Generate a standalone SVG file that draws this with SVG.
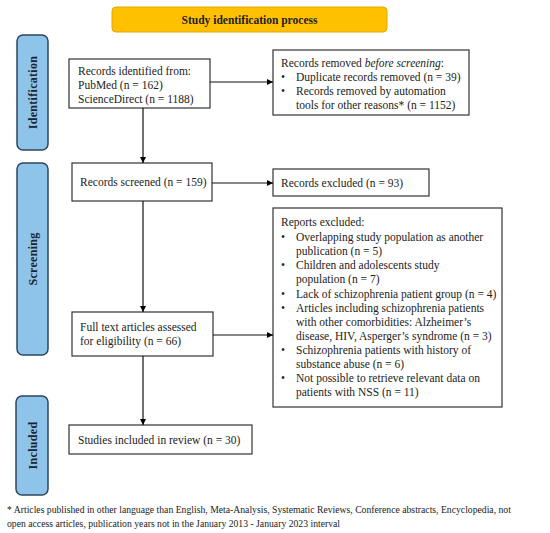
<svg xmlns="http://www.w3.org/2000/svg" width="550" height="533" viewBox="0 0 550 533">
<defs>
<marker id="ah" viewBox="0 0 10 10" refX="10" refY="5" markerWidth="6" markerHeight="6" orient="auto" markerUnits="userSpaceOnUse"><path d="M0,0 L10,5 L0,10 z" fill="#000"/></marker>
</defs>
<style>
text{font-family:"Liberation Serif","DejaVu Serif",serif;font-size:11.5px;fill:#222}
.box{fill:#fff;stroke:#333;stroke-width:1.2}
.side{fill:#8EC4EA;stroke:#2C4660;stroke-width:1.5}
.sl{font-weight:bold;font-size:12px;letter-spacing:0.3px;text-anchor:middle;fill:#1a2533}
.tt{font-weight:bold;font-size:11.5px}
.ln{fill:none;stroke:#111;stroke-width:1.2}
.fn{font-size:9.7px}
</style>
<rect width="550" height="533" fill="#fff"/>
<g id="title"><rect x="112" y="7" width="275" height="25" rx="4" fill="#FFC000" stroke="#E6A800" stroke-width="1"/><text class="tt" x="249.5" y="24" text-anchor="middle">Study identification process</text></g>
<g id="side-identification"><rect class="side" x="17" y="35" width="31" height="115" rx="6"/><text class="sl" transform="translate(36.5,92.5) rotate(-90)">Identification</text></g>
<g id="side-screening"><rect class="side" x="17" y="163" width="31" height="192" rx="6"/><text class="sl" transform="translate(36.5,259) rotate(-90)">Screening</text></g>
<g id="side-included"><rect class="side" x="16" y="396" width="32" height="99" rx="6"/><text class="sl" transform="translate(36.5,445.5) rotate(-90)">Included</text></g>
<g id="identified"><rect class="box" x="69" y="59" width="141" height="49"/><text x="78" y="75">Records identified from:</text><text x="78" y="89">PubMed (n = 162)</text><text x="78" y="103">ScienceDirect (n = 1188)</text></g>
<g id="removed"><rect class="box" x="273" y="50" width="196" height="65"/><text x="281" y="67">Records removed <tspan font-style="italic">before screening</tspan>:</text><text x="281" y="81">•</text><text x="296" y="81">Duplicate records removed (n = 39)</text><text x="281" y="95">•</text><text x="296" y="95">Records removed by automation</text><text x="296" y="109">tools for other reasons* (n = 1152)</text></g>
<g id="screened"><rect class="box" x="72" y="163" width="140" height="38"/><text x="80" y="186">Records screened (n = 159)</text></g>
<g id="excluded"><rect class="box" x="273" y="169" width="156" height="27"/><text x="281" y="187">Records excluded (n = 93)</text></g>
<g id="fulltext"><rect class="box" x="72" y="312" width="141" height="44"/><text x="80" y="331">Full text articles assessed</text><text x="80" y="345">for eligibility (n = 66)</text></g>
<g id="reports"><rect class="box" x="273" y="208" width="229" height="199"/>
<text x="281" y="226">Reports excluded:</text>
<text x="281" y="241">•</text><text x="296" y="241">Overlapping study population as another</text>
<text x="296" y="255">publication (n = 5)</text>
<text x="281" y="269">•</text><text x="296" y="269">Children and adolescents study</text>
<text x="296" y="283">population (n = 7)</text>
<text x="281" y="298">•</text><text x="296" y="298">Lack of schizophrenia patient group (n = 4)</text>
<text x="281" y="312">•</text><text x="296" y="312">Articles including schizophrenia patients</text>
<text x="296" y="326">with other comorbidities: Alzheimer’s</text>
<text x="296" y="340">disease, HIV, Asperger’s syndrome (n = 3)</text>
<text x="281" y="354">•</text><text x="296" y="354">Schizophrenia patients with history of</text>
<text x="296" y="368">substance abuse (n = 6)</text>
<text x="281" y="382">•</text><text x="296" y="382">Not possible to retrieve relevant data on</text>
<text x="296" y="396">patients with NSS (n = 11)</text></g>
<g id="included"><rect class="box" x="69" y="425" width="183" height="29"/><text x="78" y="444">Studies included in review (n = 30)</text></g>
<g id="connectors">
<line class="ln" x1="210" y1="82" x2="273" y2="82" marker-end="url(#ah)"/>
<line class="ln" x1="143" y1="108" x2="143" y2="163" marker-end="url(#ah)"/>
<line class="ln" x1="212" y1="183" x2="273" y2="183" marker-end="url(#ah)"/>
<line class="ln" x1="143" y1="201" x2="143" y2="312" marker-end="url(#ah)"/>
<line class="ln" x1="213" y1="335" x2="273" y2="335" marker-end="url(#ah)"/>
<line class="ln" x1="143" y1="356" x2="143" y2="425" marker-end="url(#ah)"/>
</g>
<g id="footnote"><text class="fn" x="7" y="513">*  Articles published in other language than English, Meta-Analysis, Systematic Reviews, Conference abstracts, Encyclopedia, not</text><text class="fn" x="7" y="527">open access articles, publication years not in the January 2013 - January 2023 interval</text></g>
</svg>
